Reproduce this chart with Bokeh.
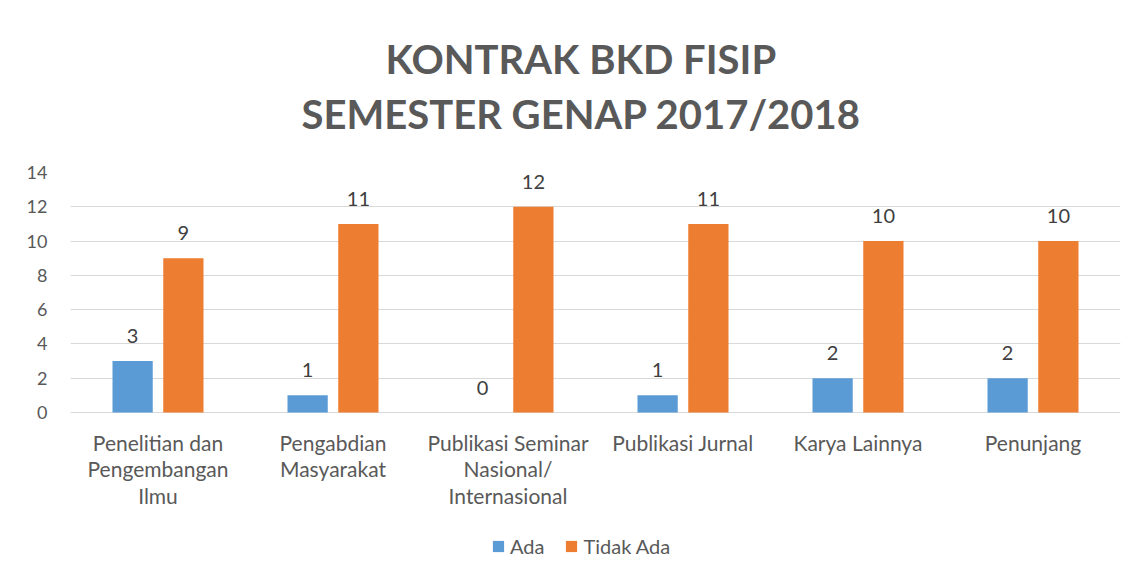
from bokeh.plotting import figure
from bokeh.models import (FactorRange, Range1d, Legend, LegendItem, Title,
                          ColumnDataSource, FixedTicker)
from bokeh.transform import dodge
from bokeh.core.properties import value
from bokeh.embed import file_html
from bokeh.resources import INLINE

# ---- data ----
categories = [
    "Penelitian dan\nPengembangan\nIlmu",
    "Pengabdian\nMasyarakat",
    "Publikasi Seminar\nNasional/\nInternasional",
    "Publikasi Jurnal",
    "Karya Lainnya",
    "Penunjang",
]
ada = [3, 1, 0, 1, 2, 2]
tidak_ada = [9, 11, 12, 11, 10, 10]
series_names = ["Ada", "Tidak Ada"]
y_ticks = [0, 2, 4, 6, 8, 10, 12, 14]
title_lines = ["KONTRAK BKD FISIP", "SEMESTER GENAP 2017/2018"]

FONT = "Lato"
BLUE = "#5B9BD5"
ORANGE = "#ED7D31"
GRID = "#d9d9d9"
TXT = "#595959"

source = ColumnDataSource(data=dict(
    cat=categories,
    ada=ada,
    tidak=tidak_ada,
    ada_lbl=[str(v) for v in ada],
    tidak_lbl=[str(v) for v in tidak_ada],
))

# the frame extends below 0 so that category labels and legend can sit in it
p = figure(
    x_range=FactorRange(*categories),
    y_range=Range1d(-8.633, 14),
    width=1121, height=562,
    output_backend="svg", toolbar_location=None,
    min_border_left=70, min_border_right=1,
    min_border_top=172, min_border_bottom=2,
    background_fill_color="white", border_fill_color="white",
)

r1 = p.vbar(x=dodge("cat", -0.145, range=p.x_range), top="ada", width=0.23,
            source=source, fill_color=BLUE, line_color=None)
r2 = p.vbar(x=dodge("cat", 0.145, range=p.x_range), top="tidak", width=0.23,
            source=source, fill_color=ORANGE, line_color=None)

p.text(x=dodge("cat", -0.145, range=p.x_range), y="ada", text="ada_lbl",
       source=source, text_align="center", text_baseline="bottom", y_offset=-18,
       text_font=value(FONT), text_font_size="20px", text_color="#404040")
p.text(x=dodge("cat", 0.145, range=p.x_range), y="tidak", text="tidak_lbl",
       source=source, text_align="center", text_baseline="bottom", y_offset=-18,
       text_font=value(FONT), text_font_size="20px", text_color="#404040")

# category labels
p.text(x="cat", y=0, text="cat", source=source, text_align="center",
       text_baseline="top", y_offset=17, text_line_height=1.07,
       text_font=value(FONT), text_font_size="21px", text_color=TXT)

# titles (added bottom line first)
p.add_layout(Title(text=title_lines[1], align="left", text_font=FONT,
                   text_font_size="40px", text_font_style="bold",
                   text_color=TXT, standoff=70, offset=231), "above")
p.add_layout(Title(text=title_lines[0], align="left", text_font=FONT,
                   text_font_size="40px", text_font_style="bold",
                   text_color=TXT, standoff=-60, offset=315), "above")

ticker = FixedTicker(ticks=y_ticks)
p.outline_line_color = None
p.xgrid.grid_line_color = None
p.ygrid.ticker = ticker
p.ygrid.grid_line_color = GRID
p.ygrid.grid_line_width = 1
p.yaxis.ticker = ticker
p.yaxis.axis_line_color = None
p.yaxis.major_tick_line_color = None
p.yaxis.minor_tick_line_color = None
p.yaxis.major_label_text_font = FONT
p.yaxis.major_label_text_font_size = "18px"
p.yaxis.major_label_text_color = TXT
p.yaxis.major_label_standoff = 17
p.xaxis.visible = False

legend = Legend(items=[LegendItem(label=series_names[0], renderers=[r1]),
                       LegendItem(label=series_names[1], renderers=[r2])],
                orientation="horizontal", location=(421, 2),
                border_line_color=None, background_fill_alpha=0,
                label_text_font=FONT, label_text_font_size="20px",
                label_text_color=TXT, glyph_width=14, glyph_height=14,
                label_height=20, spacing=20, label_standoff=5,
                margin=0, padding=0)
p.add_layout(legend)

open("out.html", "w").write(file_html(p, INLINE))
